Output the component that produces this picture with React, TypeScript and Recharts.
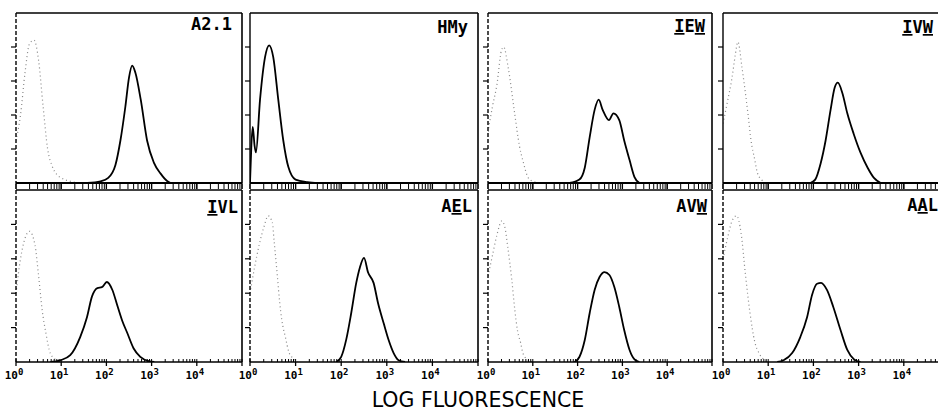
import React from "react";
import { LineChart, Line, XAxis, YAxis } from "recharts";

// ---- data (x = log10 fluorescence, y = relative cell number) ----
const decadeTicks = [0, 1, 2, 3, 4, 5];
const decadeLabels = ["0", "1", "2", "3", "4", ""];
const countTicks = [20, 40, 60, 80];

const a21Stained = [[1.58,0],[1.87,1],[2.04,3],[2.2,10.6],[2.31,25],[2.42,45],[2.5,62],[2.57,69],[2.64,65],[2.76,49],[2.9,25],[3.05,12],[3.2,5.5],[3.35,1],[3.42,0]];
const a21Control = [[0,25],[0.1,40],[0.2,65],[0.3,82],[0.4,84],[0.5,72],[0.6,45],[0.7,20],[0.8,10],[0.9,5],[1.0,3],[1.2,1],[1.4,0]];

const hmyStained = [[0,0],[0.03,22],[0.06,33],[0.1,22],[0.13,18],[0.22,49],[0.33,74],[0.42,81],[0.51,74],[0.62,49],[0.73,25],[0.84,9.5],[1.0,2],[1.26,0.5],[1.5,0]];

const iewStained = [[1.82,0],[2.04,2],[2.16,9],[2.27,27],[2.38,43],[2.47,49],[2.56,43],[2.7,37],[2.8,41],[2.93,37],[3.04,25],[3.16,13.5],[3.27,3.5],[3.38,0]];
const iewControl = [[0,30],[0.1,45],[0.2,58],[0.3,78],[0.35,80],[0.45,68],[0.6,40],[0.7,22],[0.78,13],[0.9,3],[1.0,1],[1.2,0]];

const ivwStained = [[1.93,0],[2.04,2],[2.16,11.5],[2.27,25],[2.38,43],[2.47,56],[2.54,59],[2.64,53],[2.75,41],[2.89,29],[3.04,18],[3.2,9],[3.34,3],[3.49,0]];
const ivwControl = [[0,35],[0.1,48],[0.2,62],[0.27,75],[0.33,83],[0.42,68],[0.5,52],[0.56,39],[0.62,25],[0.7,14],[0.76,6],[0.85,2],[0.95,0]];

const ivlStained = [[0.76,0],[0.98,1],[1.2,4],[1.42,14.5],[1.57,26],[1.68,38],[1.8,43],[1.9,43.5],[2.01,46.5],[2.13,42],[2.24,33],[2.35,24],[2.46,17],[2.6,8],[2.75,3],[2.94,0.5],[3.06,0]];
const ivlControl = [[0,40],[0.1,60],[0.2,72],[0.3,76],[0.42,68],[0.5,50],[0.58,30],[0.66,17],[0.76,5],[0.9,1],[1.0,0]];

const aelStained = [[1.89,0],[2.0,3],[2.11,13],[2.22,28.5],[2.33,46],[2.41,55],[2.5,60.5],[2.59,52],[2.71,46],[2.81,34],[2.93,22.7],[3.04,12.8],[3.15,5.2],[3.26,1],[3.4,0]];
const aelControl = [[0,40],[0.1,55],[0.2,68],[0.3,78],[0.4,85],[0.49,81],[0.53,70],[0.6,50],[0.65,35],[0.7,24],[0.78,14],[0.85,6],[0.95,2],[1.05,0]];

const avwStained = [[1.93,0],[2.04,2.9],[2.16,12.8],[2.27,28.5],[2.38,41.9],[2.49,49.4],[2.6,52.3],[2.71,50.6],[2.82,43.6],[2.93,32],[3.04,18.6],[3.16,7],[3.27,1.5],[3.38,0]];
const avwControl = [[0,50],[0.1,62],[0.2,74],[0.31,82],[0.38,78],[0.44,67],[0.53,48],[0.6,30],[0.66,18],[0.73,11],[0.78,5],[0.9,1],[1.0,0]];

const aalStained = [[1.2,0],[1.34,1],[1.53,5.2],[1.71,14.5],[1.86,26],[1.97,39],[2.08,45.5],[2.17,46],[2.3,41.9],[2.44,32],[2.6,18.6],[2.75,7],[2.9,1.5],[3.04,0]];
const aalControl = [[0,60],[0.1,72],[0.2,82],[0.3,85],[0.4,75],[0.5,50],[0.6,28],[0.7,12],[0.8,5],[0.9,1.5],[1.0,0]];

const panelNames = ["A2.1", "HMy", "IEW", "IVW", "IVL", "AEL", "AVW", "AAL"];
const underlinedLetters = [[], [], [0, 2], [0, 2], [0], [1], [2], [1]];
const stainedSets = [a21Stained, hmyStained, iewStained, ivwStained, ivlStained, aelStained, avwStained, aalStained];
const controlSets = [a21Control, null, iewControl, ivwControl, ivlControl, aelControl, avwControl, aalControl];

// ---- layout ----
const layout = [
  { px: 16, py: 13, pw: 226, ph: 170, row: 0, dashed: true, lr: 232, lb: 30 },
  { px: 250, py: 13, pw: 228, ph: 170, row: 0, dashed: false, lr: 468, lb: 33 },
  { px: 488, py: 13, pw: 224, ph: 170, row: 0, dashed: true, lr: 705, lb: 32 },
  { px: 723, py: 13, pw: 226, ph: 170, row: 0, dashed: false, lr: 933, lb: 33 },
  { px: 16, py: 190, pw: 226, ph: 172, row: 1, dashed: true, lr: 238, lb: 213 },
  { px: 250, py: 190, pw: 228, ph: 172, row: 1, dashed: true, lr: 472, lb: 212 },
  { px: 488, py: 190, pw: 224, ph: 172, row: 1, dashed: true, lr: 707, lb: 212 },
  { px: 723, py: 190, pw: 226, ph: 172, row: 1, dashed: true, lr: 938, lb: 211 },
];

const minorTicks: number[] = [];
for (let d = 0; d < 5; d++) {
  for (let k = 1; k <= 9; k++) minorTicks.push(d + Math.log10(k));
}
minorTicks.push(5);

const toPts = (arr: number[][]) => arr.map(([x, y]) => ({ x, y }));

const Empty = () => <g />;

const DecadeLabel = (props: any) => {
  const { x, y, payload } = props;
  const i = decadeTicks.indexOf(payload.value);
  if (i < 0 || !decadeLabels[i]) return <g />;
  return (
    <text x={x - 2} y={y + 11} textAnchor="middle" fontFamily="'DejaVu Sans Mono', monospace" fontWeight="bold" fontSize={11} fill="#000">
      10<tspan dy={-4} fontSize={9}>{decadeLabels[i]}</tspan>
    </text>
  );
};

function Panel({ idx }: { idx: number }) {
  const L = layout[idx];
  const mL = 16, mR = 4, mT = 4, mB = L.row === 1 ? 24 : 10;
  const stained = toPts(stainedSets[idx]);
  const ctl = controlSets[idx];
  const bottomAxes = L.row === 1 ? 1 : 2;
  return (
    <div style={{ position: "absolute", left: L.px - mL, top: L.py - mT }}>
      <LineChart width={L.pw + mL + mR} height={L.ph + mT + mB}
        margin={{ top: mT - 1, right: mR - 1, bottom: mB - bottomAxes, left: mL - 1 }}>
        <XAxis xAxisId="main" type="number" dataKey="x" domain={[0, 5]} ticks={decadeTicks} interval={0} allowDataOverflow height={1}
          tickSize={L.row === 1 ? 4 : 6} axisLine={{ stroke: "#000", strokeWidth: L.row === 1 ? 1.6 : 2.2 }} tickLine={{ stroke: "#000", strokeWidth: 1.3 }}
          tick={L.row === 1 ? <DecadeLabel /> : <Empty />} />
        <XAxis xAxisId="minor" type="number" dataKey="x" domain={[0, 5]} ticks={minorTicks} interval={0} allowDataOverflow height={1}
          tickSize={L.row === 1 ? 3 : 5} mirror={L.row === 1} axisLine={false} tickLine={{ stroke: "#000", strokeWidth: 1 }} tick={<Empty />} />
        <XAxis xAxisId="top" orientation="top" type="number" dataKey="x" domain={[0, 5]} allowDataOverflow height={1}
          axisLine={{ stroke: "#000", strokeWidth: 1.3 }} tickLine={false} tick={false} />
        <YAxis yAxisId="main" type="number" domain={[0, 100]} ticks={countTicks} interval={0} allowDataOverflow width={1}
          axisLine={{ stroke: "#000", strokeWidth: 1.4, strokeDasharray: L.dashed ? "4 2" : undefined }}
          tickLine={{ stroke: "#000", strokeWidth: 1.2 }} tickSize={5} tick={<Empty />} />
        <YAxis yAxisId="right" orientation="right" type="number" domain={[0, 100]} allowDataOverflow width={1}
          axisLine={{ stroke: "#000", strokeWidth: 1.6 }} tickLine={false} tick={false} />
        {ctl && (
          <Line xAxisId="main" yAxisId="main" data={toPts(ctl)} dataKey="y" type="monotone" stroke="#888" strokeWidth={1.2}
            strokeDasharray="1 3" dot={false} isAnimationActive={false} />
        )}
        <Line xAxisId="main" yAxisId="main" data={stained} dataKey="y" type="monotone" stroke="#000" strokeWidth={1.8}
          dot={false} isAnimationActive={false} />
      </LineChart>
    </div>
  );
}

export default function App() {
  return (
    <div style={{ position: "absolute", left: 0, top: 0, width: 938, height: 412, overflow: "hidden", background: "#fff" }}>
      {layout.map((_, i) => <Panel key={i} idx={i} />)}
      <svg width={938} height={412} style={{ position: "absolute", left: 0, top: 0, pointerEvents: "none" }}>
        {layout.map((L, i) => (
          <text key={i} x={L.lr} y={L.lb} textAnchor="end" fontFamily="'DejaVu Sans Mono', monospace" fontWeight="bold" fontSize={17} fill="#000">
            {panelNames[i].split("").map((ch, j) => (
              <tspan key={j} style={{ textDecoration: underlinedLetters[i].includes(j) ? "underline" : "none" }}>{ch}</tspan>
            ))}
          </text>
        ))}
        <text x={478} y={407} textAnchor="middle" fontFamily="'DejaVu Sans', sans-serif" fontSize={20.5} fill="#000">LOG FLUORESCENCE</text>
      </svg>
    </div>
  );
}
